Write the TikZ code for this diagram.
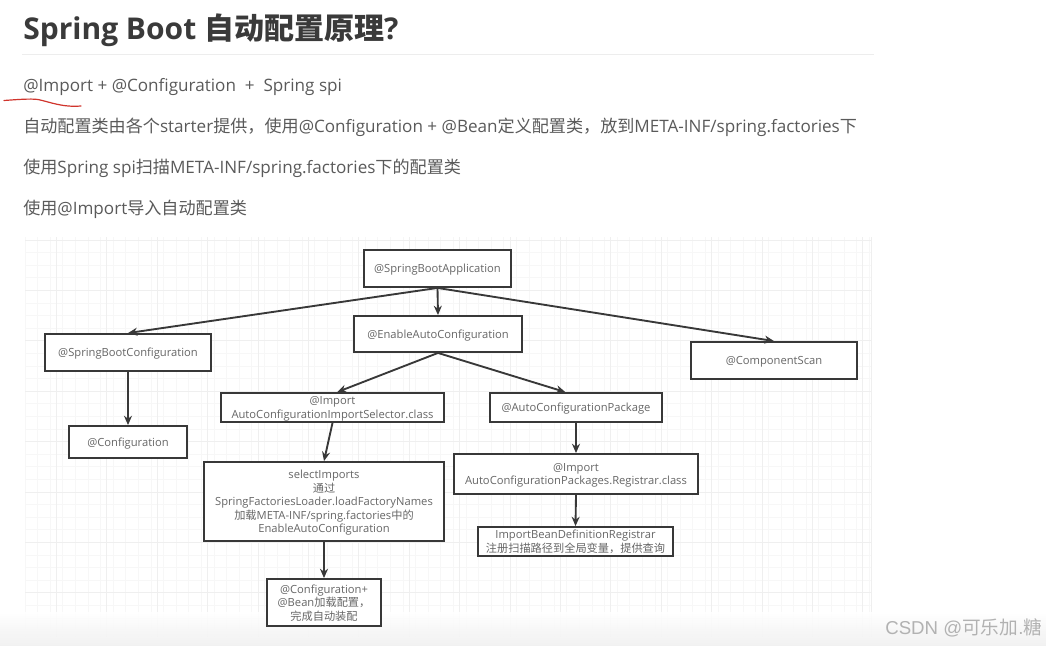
\documentclass[tikz,border=0pt]{standalone}
\usepackage{fontspec}
\setmainfont{Open Sans}
\newfontfamily\cjk{Noto Sans CJK SC}
\newfontfamily\wm{Liberation Sans}
\newcommand{\zh}[1]{{\cjk #1}}
\newcommand{\bt}[1]{\raisebox{-1.1pt}[\height][\depth]{\setlength{\tabcolsep}{0pt}\renewcommand{\arraystretch}{1}\begin{tabular}{c}#1\end{tabular}}}
\definecolor{ink}{HTML}{3A3A3A}
\definecolor{body}{HTML}{5A5A5A}
\definecolor{boxtext}{HTML}{666666}
\definecolor{boxline}{HTML}{383838}
\definecolor{gridminor}{HTML}{F7F7F7}
\definecolor{gridmajor}{HTML}{EFEFEF}
\definecolor{pen}{HTML}{D0342C}
\usetikzlibrary{arrows.meta}
\tikzset{
  px/.style={x=0.75pt,y=-0.75pt},
  headtext/.style={anchor=base west,inner sep=0pt,text=ink,font=\fontsize{22.5}{26}\selectfont\bfseries},
  bodytext/.style={anchor=base west,inner sep=0pt,text=body,font=\fontsize{12.82}{15}\selectfont},
  stepbox/.style 2 args={draw=boxline,line width=1.4pt,fill=white,inner sep=0pt,text=boxtext,
    font=\fontsize{8.4}{10.1}\selectfont,minimum width=#1*0.75pt,minimum height=#2*0.75pt},
  link/.style={draw=boxline,line width=1.4pt,-{Stealth[length=7pt,width=6pt]}},
}
\begin{document}
\begin{tikzpicture}[px]
\useasboundingbox (0,0) rectangle (1046,646);
\fill[white] (0,0) rectangle (1046,646);
% grid
\foreach \i in {0,...,67} \draw[gridminor,line width=.6pt] ({25+\i*12.6},237) -- ({25+\i*12.6},637);
\foreach \i in {0,...,31} \draw[gridminor,line width=.6pt] (25,{240+\i*12.6}) -- (871,{240+\i*12.6});
\foreach \i in {0,...,16} \draw[gridmajor,line width=.7pt] ({56.5+\i*50.4},237) -- ({56.5+\i*50.4},637);
\foreach \i in {0,...,7} \draw[gridmajor,line width=.7pt] (25,{240+\i*50.4}) -- (871,{240+\i*50.4});
\draw[gridmajor,line width=.7pt] (871,237) -- (871,637);
% bottom fade
\shade[top color=white,bottom color=black!6,opacity=.9] (0,612) rectangle (1046,646);
% heading
\node[headtext] (title) at (23,39) {Spring Boot \zh{自动配置原理}?};
\draw[black!7,line width=.7pt] (22,54) -- (874,54);
\node[bodytext] (l1) at (23,91) {@Import + @Configuration\ \ +\ \ Spring spi};
\node[bodytext] (l2) at (23,132) {\zh{自动配置类由各个}starter\zh{提供，使用}@Configuration + @Bean\zh{定义配置类，放到}META-INF/spring.factories\zh{下}};
\node[bodytext] (l3) at (23,173) {\zh{使用}Spring spi\zh{扫描}META-INF/spring.factories\zh{下的配置类}};
\node[bodytext] (l4) at (23,214) {\zh{使用}@Import\zh{导入自动配置类}};
\draw[pen,line width=.9pt,line cap=round] (4,100.5) .. controls (18,99.5) and (30,98.5) .. (38,99.5) .. controls (50,102) and (62,107.5) .. (81,106);
% boxes
\node[stepbox={147}{37}] (app) at (437.5,268.5) {\bt{@SpringBootApplication}};
\node[stepbox={168}{36}] (enable) at (438,334) {\bt{@EnableAutoConfiguration}};
\node[stepbox={166}{37}] (sbc) at (128,352.5) {\bt{@SpringBootConfiguration}};
\node[stepbox={118}{32}] (conf) at (128,442) {\bt{@Configuration}};
\node[stepbox={166}{37}] (scan) at (774,360.5) {\bt{@ComponentScan}};
\node[stepbox={223}{29}] (acis) at (332.5,407.5) {\bt{@Import\\AutoConfigurationImportSelector.class}};
\node[stepbox={172}{29}] (pkg) at (576,407.5) {\bt{@AutoConfigurationPackage}};
\node[stepbox={240}{79}] (sel) at (324,501.5) {\bt{selectImports\\\zh{通过}\\SpringFactoriesLoader.loadFactoryNames\\\zh{加载}META-INF/spring.factories\zh{中的}\\EnableAutoConfiguration}};
\node[stepbox={244}{40}] (reg) at (576,474) {\bt{@Import\\AutoConfigurationPackages.Registrar.class}};
\node[stepbox={195}{29}] (bean) at (575.5,541.5) {\bt{ImportBeanDefinitionRegistrar\\\zh{注册扫描路径到全局变量，提供查询}}};
\node[stepbox={114}{47}] (load) at (324,602.5) {\bt{@Configuration+\\@Bean\zh{加载配置，}\\\zh{完成自动装配}}};
% connectors
\draw[link] (app.south) -- (enable.north);
\draw[link] (app.south) -- (sbc.north);
\draw[link] (app.south) -- (scan.north);
\draw[link] (sbc.south) -- (conf.north);
\draw[link] (enable.south) -- ([xshift=3.5pt]acis.north);
\draw[link] (enable.south) -- ([xshift=-8pt]pkg.north);
\draw[link] (acis.south) -- (sel.north);
\draw[link] (sel.south) -- (load.north);
\draw[link] (pkg.south) -- (reg.north);
\draw[link] (reg.south) -- (bean.north);
% watermark
\node[anchor=base west,inner sep=0pt,text=black!30,font=\fontsize{14}{16}\selectfont\wm] (mark) at (885,634) {CSDN @\zh{可乐加}.\zh{糖}};
\end{tikzpicture}
\end{document}
